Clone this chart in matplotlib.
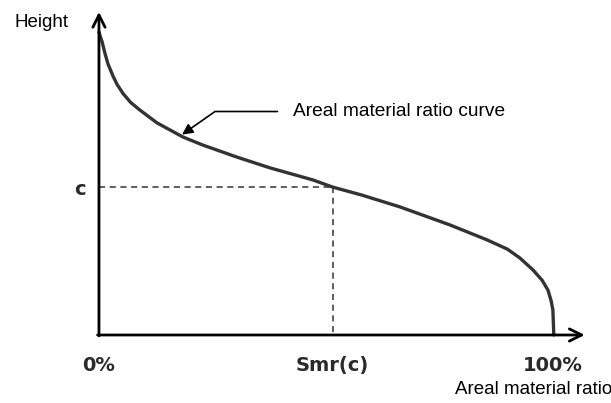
import matplotlib
matplotlib.use("Agg")
import matplotlib.pyplot as plt

# curve: material ratio (%) vs height (arbitrary units)
ratio = [0, 0.3, 0.7, 1.3, 2.0, 3.1, 4.0, 5.3, 7.0, 9.0, 12.8, 18.5, 22.9,
         30.4, 37.7, 47.1, 51.5, 58.0, 66.3, 77.3, 85.5, 90.0, 92.7, 95.6,
         97.6, 98.9, 99.6, 100, 100.2]
height = [101, 99.5, 97.7, 94, 90.3, 86.3, 83.5, 80.5, 77.5, 75, 70.7, 66,
          63.3, 59.3, 55.7, 51.7, 49.3, 46.6, 42.7, 36.7, 31.7, 28.6, 25.7,
          21.7, 18.3, 15, 11.5, 8.3, 0]
c_level = 49.3
smr_c = 51.5
tick_pos = [0, smr_c, 100]
tick_labels = ["0%", "Smr(c)", "100%"]

fig = plt.figure(figsize=(6.11, 4.03), dpi=100)
ax = fig.add_axes([0, 0, 1, 1])
ax.set_xlim(-21.8, 112.8)
ax.set_ylim(-22.67, 111.67)
ax.axis("off")

# axes with open arrowheads
arrow = dict(arrowstyle="->", color="black", lw=2, mutation_scale=22,
             shrinkA=0, shrinkB=0)
ax.annotate("", xy=(107, 0), xytext=(-0.3, 0), arrowprops=arrow)
ax.annotate("", xy=(0, 107.7), xytext=(0, -0.3), arrowprops=arrow)

# curve
ax.plot(ratio, height, color="#333333", lw=2.4, solid_capstyle="round",
        solid_joinstyle="round")

# dashed guides for c / Smr(c)
ax.plot([0, smr_c], [c_level, c_level], ls=(0, (4, 3)), color="#333333", lw=1.1)
ax.plot([smr_c, smr_c], [c_level, 0], ls=(0, (4, 3)), color="#333333", lw=1.1)

sans = "Liberation Sans"
bold = dict(family="DejaVu Sans", weight="bold", fontsize=14, color="#2a2a2a")

for p, lab in zip(tick_pos, tick_labels):
    ax.text(p, -10.3, lab, ha="center", va="center", **bold)
ax.text(-4.2, 48.5, "c", ha="center", va="center", **bold)

ax.text(-18.5, 104.3, "Height", family=sans, fontsize=13.5, ha="left", va="center")
ax.text(78.5, -18.3, "Areal material ratio", family=sans, fontsize=13.5,
        ha="left", va="center")

# callout for the curve
ax.annotate("Areal material ratio curve", xy=(18.3, 66.8), xytext=(42.7, 74.5),
            family=sans, fontsize=13.8, ha="left", va="center",
            arrowprops=dict(arrowstyle="-|>", color="black", lw=1.2,
                            mutation_scale=16, shrinkA=9, shrinkB=0,
                            connectionstyle="angle,angleA=0,angleB=35,rad=0",
                            relpos=(0, 0.5)))

fig.savefig("out.png", dpi=100)
